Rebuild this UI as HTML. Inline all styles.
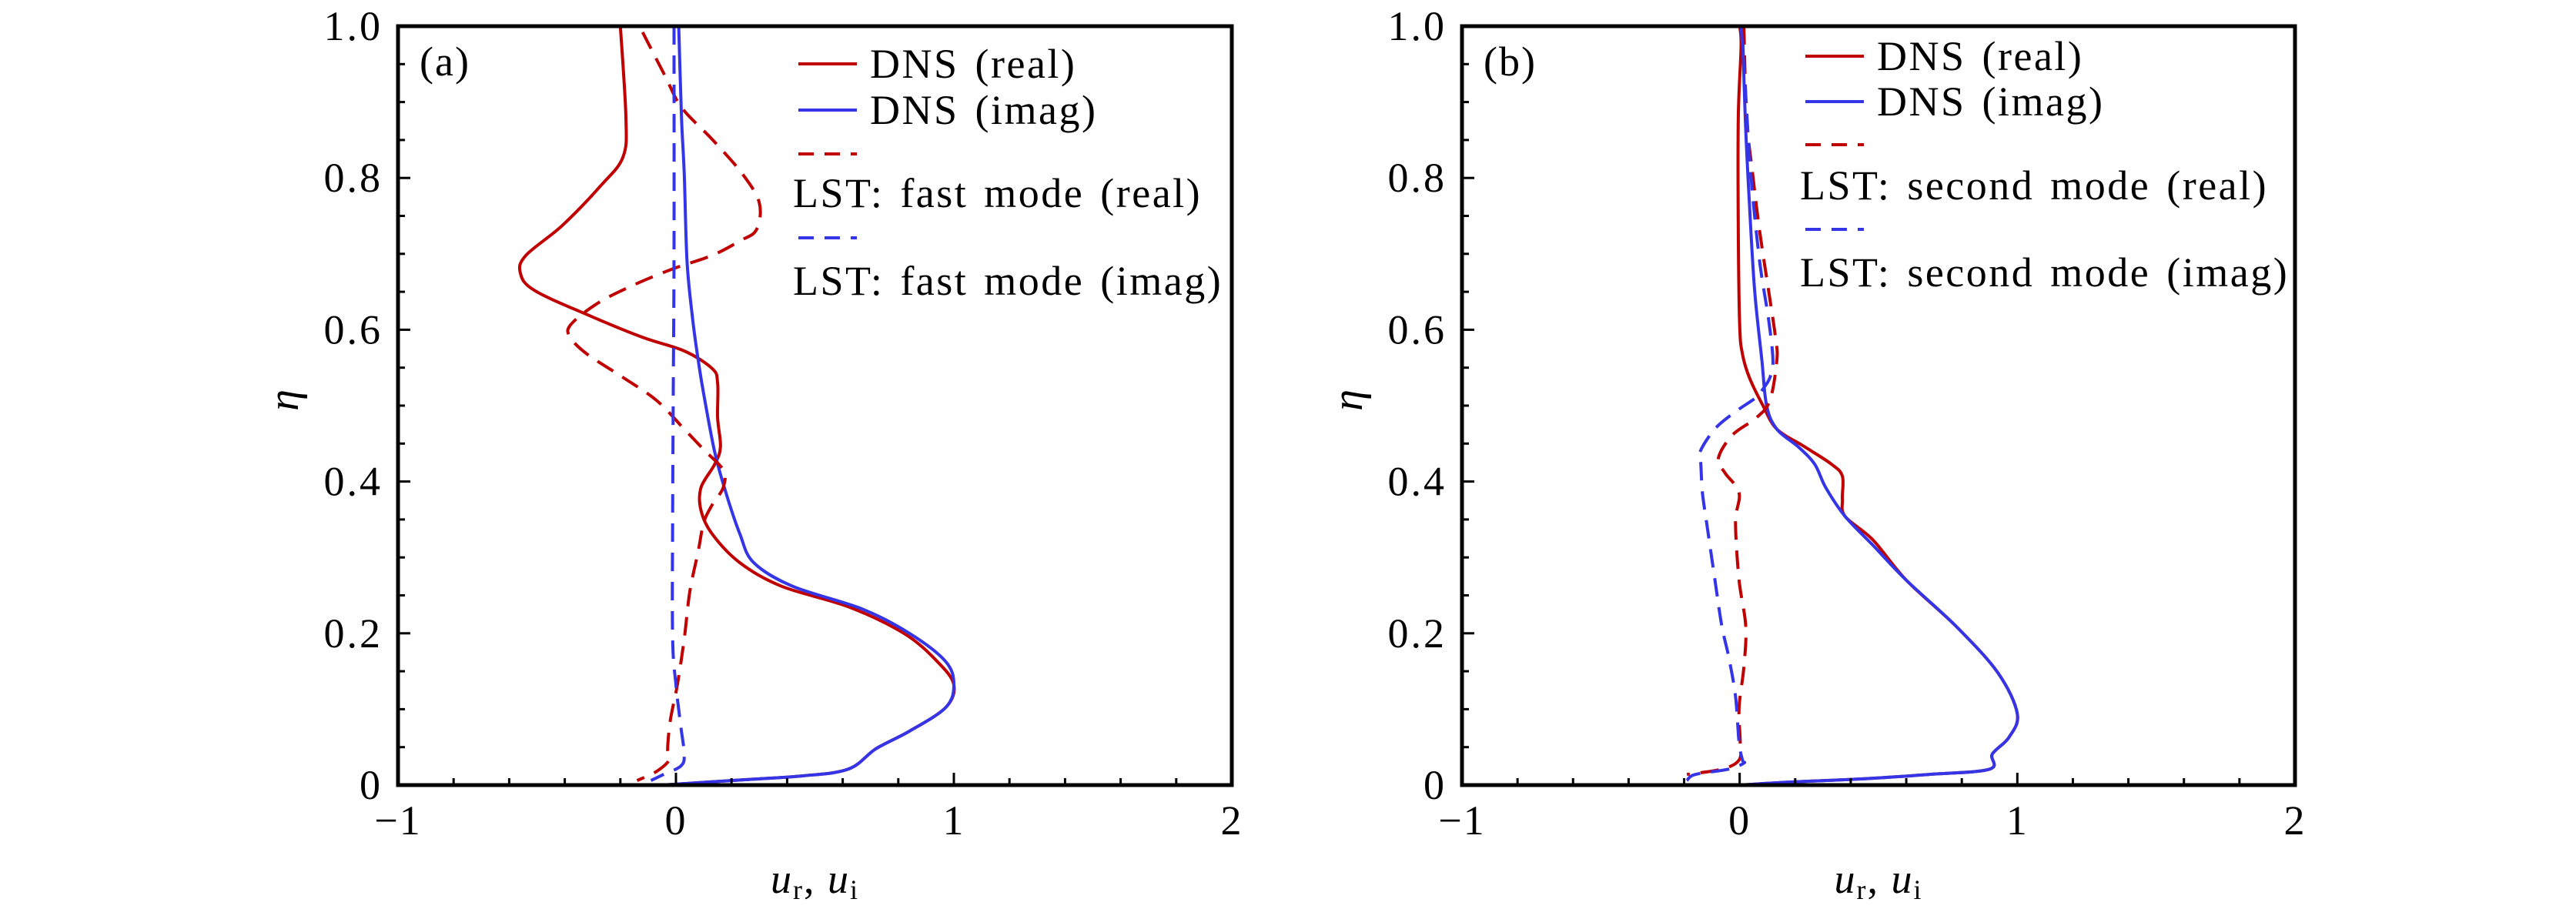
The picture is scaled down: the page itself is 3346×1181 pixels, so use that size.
<!DOCTYPE html>
<html><head><meta charset="utf-8"><style>
html,body{margin:0;padding:0;background:#fff}
svg{display:block}
text{font-family:"Liberation Serif","DejaVu Serif",serif;fill:#000}
</style></head><body>
<svg id="fig" width="3346" height="1181" viewBox="0 0 3346 1181" xmlns="http://www.w3.org/2000/svg"></svg>
<script>
// Panel (a) data: [eta, u]
const aDnsReal=[[1.0,-0.2],[0.88,-0.18],[0.828,-0.19],[0.79,-0.27],[0.737,-0.41],[0.698,-0.54],[0.675,-0.56],[0.652,-0.51],[0.62,-0.32],[0.59,-0.12],[0.572,0.03],[0.549,0.13],[0.53,0.15],[0.484,0.15],[0.446,0.16],[0.423,0.14],[0.392,0.09],[0.362,0.09],[0.331,0.13],[0.293,0.23],[0.262,0.38],[0.235,0.62],[0.2,0.82],[0.163,0.94],[0.132,1.0],[0.102,0.97],[0.071,0.84],[0.048,0.72],[0.021,0.62],[0.012,0.45],[0.006,0.2],[0,-0.05]];
const aDnsImag=[[1.0,0.01],[0.88,0.02],[0.805,0.03],[0.69,0.04],[0.614,0.06],[0.56,0.08],[0.515,0.1],[0.438,0.14],[0.385,0.18],[0.331,0.23],[0.293,0.28],[0.262,0.42],[0.232,0.67],[0.2,0.84],[0.163,0.97],[0.132,1.0],[0.102,0.97],[0.071,0.84],[0.048,0.72],[0.021,0.62],[0.012,0.45],[0.006,0.2],[0,-0.05]];
const aLstReal=[[0.992,-0.12],[0.935,-0.04],[0.893,0.02],[0.851,0.13],[0.805,0.24],[0.767,0.30],[0.732,0.29],[0.717,0.23],[0.698,0.13],[0.679,-0.02],[0.656,-0.17],[0.633,-0.29],[0.606,-0.38],[0.59,-0.38],[0.568,-0.32],[0.537,-0.19],[0.507,-0.07],[0.469,0.03],[0.442,0.1],[0.415,0.17],[0.392,0.17],[0.369,0.13],[0.346,0.1],[0.308,0.08],[0.255,0.05],[0.193,0.03],[0.132,0.005],[0.086,-0.02],[0.048,-0.03],[0.033,-0.025],[0.018,-0.07],[0.006,-0.14]];
const aLstImag=[[1.0,-0.007],[0.7,-0.007],[0.5,-0.01],[0.346,-0.012],[0.193,-0.012],[0.132,0],[0.079,0.017],[0.04,0.03],[0.025,0.017],[0.014,-0.045],[0.006,-0.09]];
// Panel (b) data
const bDnsReal=[[1.0,0],[0.973,0.005],[0.88,-0.005],[0.73,-0.005],[0.606,0],[0.568,0.01],[0.537,0.035],[0.5,0.084],[0.469,0.134],[0.446,0.233],[0.423,0.33],[0.407,0.37],[0.377,0.37],[0.354,0.38],[0.323,0.48],[0.27,0.6],[0.209,0.78],[0.148,0.93],[0.094,1.0],[0.063,0.97],[0.041,0.91],[0.021,0.9],[0.014,0.68],[0.008,0.43],[0.004,0.18],[0,0]];
const bDnsImag=[[1.0,0.01],[0.88,0.02],[0.767,0.035],[0.652,0.054],[0.56,0.08],[0.5,0.097],[0.469,0.134],[0.446,0.21],[0.423,0.27],[0.392,0.31],[0.354,0.38],[0.316,0.48],[0.27,0.6],[0.209,0.78],[0.148,0.93],[0.094,1.0],[0.063,0.97],[0.041,0.91],[0.021,0.9],[0.014,0.68],[0.008,0.43],[0.004,0.18],[0,0]];
const bLstReal=[[1.0,0.015],[0.88,0.025],[0.805,0.047],[0.73,0.072],[0.652,0.104],[0.59,0.129],[0.56,0.134],[0.507,0.109],[0.484,0.06],[0.461,-0.027],[0.43,-0.077],[0.411,-0.052],[0.385,-0.002],[0.346,-0.015],[0.27,-0.002],[0.209,0.022],[0.155,0.015],[0.102,-0.002],[0.056,0.002],[0.033,-0.002],[0.021,-0.064],[0.014,-0.19]];
const bLstImag=[[1.0,0.005],[0.92,0.02],[0.805,0.04],[0.69,0.072],[0.614,0.104],[0.56,0.12],[0.537,0.109],[0.522,0.084],[0.511,0.06],[0.492,-0.015],[0.469,-0.09],[0.438,-0.144],[0.423,-0.14],[0.385,-0.134],[0.346,-0.119],[0.27,-0.089],[0.209,-0.064],[0.17,-0.04],[0.117,-0.015],[0.056,-0.002],[0.033,0.01],[0.029,0.015],[0.021,-0.04],[0.014,-0.16],[0.006,-0.19]];
const xTicks=[-1,0,1,2];
const xTickLabels=["\u22121","0","1","2"];
const yTicks=[0,0.2,0.4,0.6,0.8,1.0];
const yTickLabels=["0","0.2","0.4","0.6","0.8","1.0"];

const NS="http://www.w3.org/2000/svg";
const svg=document.getElementById('fig');
const RED="#c00000", BLUE="#3535e8";
function mk(tag,attrs,parent){const e=document.createElementNS(NS,tag);for(const k in attrs)e.setAttribute(k,attrs[k]);(parent||svg).appendChild(e);return e;}
function smooth(pts){
  let d='M'+pts[0][0].toFixed(1)+' '+pts[0][1].toFixed(1);
  for(let i=0;i<pts.length-1;i++){
    const p0=pts[i-1]||pts[i],p1=pts[i],p2=pts[i+1],p3=pts[i+2]||p2;
    const c1=[p1[0]+(p2[0]-p0[0])/6,p1[1]+(p2[1]-p0[1])/6];
    const c2=[p2[0]-(p3[0]-p1[0])/6,p2[1]-(p3[1]-p1[1])/6];
    d+=' C'+c1[0].toFixed(1)+' '+c1[1].toFixed(1)+' '+c2[0].toFixed(1)+' '+c2[1].toFixed(1)+' '+p2[0].toFixed(1)+' '+p2[1].toFixed(1);
  }
  return d;
}

function panel(cfg){
  const g=mk('g',{});
  
  
  const L=cfg.left,R=cfg.right,T=34,B=1020;
  const sx=v=>L+(v+1)/3*(R-L);
  const sy=v=>B-v*(B-T);
  const cp=mk('clipPath',{id:cfg.clip},g);
  mk('rect',{x:L,y:T,width:R-L,height:B-T},cp);
  const plot=mk('g',{'clip-path':'url(#'+cfg.clip+')'},g);
  cfg.series.forEach(s=>{
    const d=smooth(s.data.map(p=>[sx(p[1]),sy(p[0])]));
    const p=mk('path',{d:d,fill:'none',stroke:s.color,'stroke-width':4,'stroke-linejoin':'round','stroke-dasharray':s.dash?'24 14':'none'},plot);
    
    
  });
  for(let v=-1;v<=2.0001;v+=0.2){
    const major=Math.abs(v-Math.round(v))<1e-6;
    const x=sx(v);
    const t=mk('line',{x1:x,x2:x,y1:B,y2:B-(major?16:9),stroke:'#000','stroke-width':3},g);
    
    
  }
  for(let i=0;i<=20;i++){
    const v=i*0.05;const y=sy(v);const major=i%4===0;
    const t=mk('line',{x1:L,x2:L+(major?16:9),y1:y,y2:y,stroke:'#000','stroke-width':3},g);
    
    
  }
  const frame=mk('rect',{x:L,y:T,width:R-L,height:B-T,fill:'none',stroke:'#000','stroke-width':5},g);
  
  
  xTicks.forEach((v,i)=>{
    const t=mk('text',{x:sx(v),y:1084,'font-size':54,'letter-spacing':2,'text-anchor':'middle'},g);
    t.textContent=xTickLabels[i];
    
    
  });
  yTicks.forEach((v,i)=>{
    const t=mk('text',{x:L-20,y:sy(v)+18,'font-size':54,'letter-spacing':3,'text-anchor':'end'},g);
    t.textContent=yTickLabels[i];
    
    
  });
  const yl=mk('text',{x:L-145,y:535,'font-size':56,'font-style':'italic','text-anchor':'middle',transform:'rotate(-90 '+(L-145)+' 520)'},g);
  yl.textContent='η';
  
  
  const xl=mk('text',{x:(L+R)/2,y:1160,'font-size':54,'text-anchor':'middle','letter-spacing':2},g);
  xl.innerHTML='<tspan font-style="italic">u</tspan><tspan font-size="36" dy="8">r</tspan><tspan dy="-8">, </tspan><tspan font-style="italic">u</tspan><tspan font-size="36" dy="8">i</tspan>';
  
  
  const pl=mk('text',{x:L+28,y:cfg.labY,'font-size':54,'letter-spacing':2},g);
  pl.textContent=cfg.label;
  
  
  const lg=mk('g',{},g);
  
  
  cfg.legend.forEach(e=>{
    const ln=mk('line',{x1:e.lx,x2:e.lx+76,y1:e.ly,y2:e.ly,stroke:e.color,'stroke-width':4,'stroke-dasharray':e.dash?'20 14':'none'},lg);
    
    
    const tx=mk('text',{x:e.tx,y:e.ty+18,'font-size':54,'letter-spacing':2.5,'word-spacing':5},lg);
    tx.textContent=e.text;
    
    
  });
}
panel({name:'panel-a',clip:'ca',left:517,right:1600,label:'(a)',labY:98,
  series:[{name:'dns-real-a',data:aDnsReal,color:RED},{name:'dns-imag-a',data:aDnsImag,color:BLUE},
          {name:'lst-real-a',data:aLstReal,color:RED,dash:1},{name:'lst-imag-a',data:aLstImag,color:BLUE,dash:1}],
  legend:[{lx:1037,ly:83,tx:1130,ty:83,color:RED,text:'DNS (real)'},
          {lx:1037,ly:143,tx:1130,ty:143,color:BLUE,text:'DNS (imag)'},
          {lx:1037,ly:200,tx:1030,ty:251,color:RED,dash:1,text:'LST: fast mode (real)'},
          {lx:1037,ly:309,tx:1030,ty:365,color:BLUE,dash:1,text:'LST: fast mode (imag)'}]});
panel({name:'panel-b',clip:'cb',left:1899,right:2981,label:'(b)',labY:98,
  series:[{name:'dns-real-b',data:bDnsReal,color:RED},{name:'dns-imag-b',data:bDnsImag,color:BLUE},
          {name:'lst-real-b',data:bLstReal,color:RED,dash:1},{name:'lst-imag-b',data:bLstImag,color:BLUE,dash:1}],
  legend:[{lx:2345,ly:73,tx:2438,ty:73,color:RED,text:'DNS (real)'},
          {lx:2345,ly:132,tx:2438,ty:132,color:BLUE,text:'DNS (imag)'},
          {lx:2345,ly:188,tx:2338,ty:241,color:RED,dash:1,text:'LST: second mode (real)'},
          {lx:2345,ly:298,tx:2338,ty:354,color:BLUE,dash:1,text:'LST: second mode (imag)'}]});
</script>
</body></html>
